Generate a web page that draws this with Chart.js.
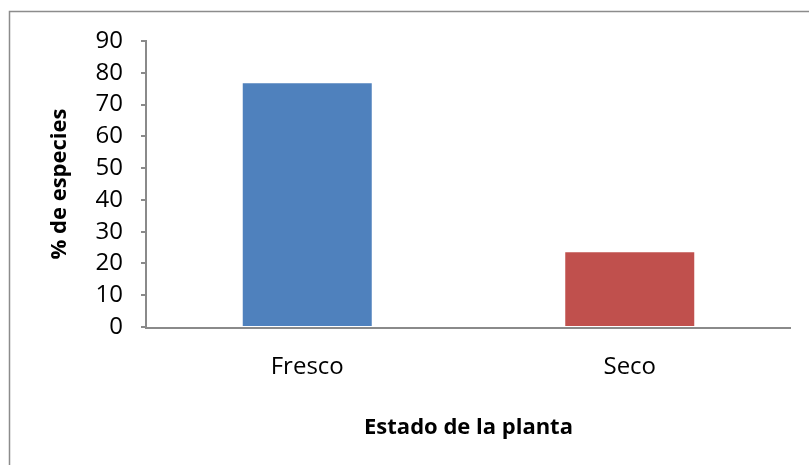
<!DOCTYPE html>
<html>
<head>
<meta charset="utf-8">
<script src="https://cdn.jsdelivr.net/npm/chart.js@4"></script>
<style>
  html, body { margin: 0; padding: 0; background: #fff; }
  #wrap { width: 809px; height: 465px; position: relative; }
</style>
</head>
<body>
<div id="wrap"><canvas id="myChart" width="809" height="465"></canvas></div>
<script>
var categories = ['Fresco', 'Seco'];
var values = [76.7, 23.5];
var barColors = ['#4F81BD', '#C0504D'];
var yTicks = [0, 10, 20, 30, 40, 50, 60, 70, 80, 90];
var xTitle = 'Estado de la planta';
var yTitle = '% de especies';

var axisGray = '#8a8a8a';
var font = "'Open Sans', 'Noto Sans', sans-serif";

// outer frame of the chart (only left and top edge fall inside the picture)
// plus the category axis line, kept to the category scale's own width
var framePlugin = {
  id: 'frame',
  beforeDraw: function(chart) {
    var c = chart.ctx;
    c.save();
    c.strokeStyle = '#8c8c8c';
    c.lineWidth = 1.5;
    c.strokeRect(9.5, 11.5, 1000, 1000);
    c.restore();
  },
  afterDatasetsDraw: function(chart) {
    var c = chart.ctx;
    var xs = chart.scales.x;
    var ys = chart.scales.y;
    var y0 = ys.getPixelForValue(0);
    c.save();
    c.strokeStyle = axisGray;
    c.lineWidth = 2;
    c.beginPath();
    c.moveTo(ys.right - 1, y0 + 1);
    c.lineTo(xs.getPixelForValue(categories.length - 0.5), y0 + 1);
    c.stroke();
    c.restore();
  }
};

var ctx = document.getElementById('myChart').getContext('2d');
var myChart = new Chart(ctx, {
  type: 'bar',
  data: {
    labels: categories,
    datasets: [{
      data: values,
      backgroundColor: barColors,
      borderWidth: 0,
      barPercentage: 0.4,
      categoryPercentage: 1
    }]
  },
  options: {
    responsive: false,
    animation: false,
    layout: { padding: { left: 46, right: 18, top: 41, bottom: 18 } },
    plugins: {
      legend: { display: false },
      tooltip: { enabled: false }
    },
    scales: {
      x: {
        grid: { display: false, drawTicks: false },
        border: { display: false },
        ticks: { color: '#000', padding: 26, font: { family: font, size: 24 } },
        title: {
          display: true,
          text: xTitle,
          color: '#000',
          padding: { top: 0, bottom: 6 },
          font: { family: font, size: 22, weight: 'bold' }
        },
        afterFit: function(scale) { scale.height = 465 - 327 - 18; }
      },
      y: {
        min: 0,
        max: 90,
        afterBuildTicks: function(scale) {
          scale.ticks = yTicks.map(function(v) { return { value: v }; });
        },
        grid: { drawOnChartArea: false, drawTicks: true, tickLength: 5, color: axisGray, lineWidth: 2 },
        border: { display: true, color: axisGray, width: 2 },
        ticks: { color: '#000', padding: 18, autoSkip: false, font: { family: font, size: 24 } },
        title: {
          display: true,
          text: yTitle,
          color: '#000',
          padding: { top: 1, bottom: 0 },
          font: { family: font, size: 22, weight: 'bold' }
        },
        afterFit: function(scale) { scale.width = 146 - 46; }
      }
    }
  },
  plugins: [framePlugin]
});
</script>
</body>
</html>
